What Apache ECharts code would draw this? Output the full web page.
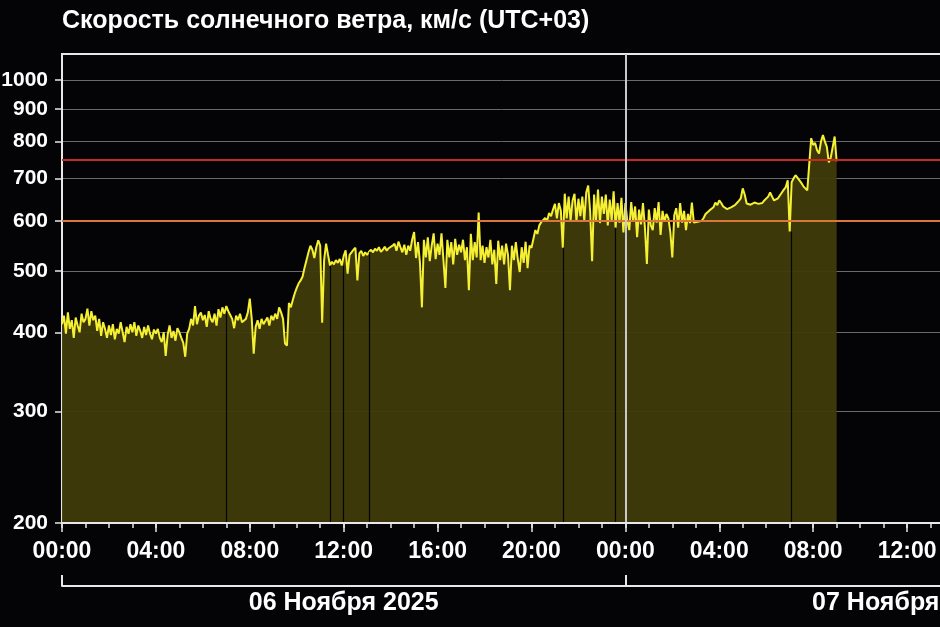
<!DOCTYPE html>
<html><head><meta charset="utf-8">
<script src="https://cdn.jsdelivr.net/npm/echarts@6/dist/echarts.min.js"></script>
<style>html,body{margin:0;padding:0;background:#040306}#c{width:940px;height:627px}</style>
</head><body><div id="c"></div><script>
const titleText = 'Скорость солнечного ветра, км/с (UTC+03)';
// x is measured in hours from 06 Nov 2025 00:00 (UTC+03)
const stepMinutes = 5;
const axisEndHour = 38;
// solar wind speed, km/s, one value every 5 minutes from 06 Nov 00:00 to 07 Nov 09:00
const speeds = [
412,425,398,430,405,418,392,422,410,400,428,415,
420,436,410,432,418,425,402,420,395,415,405,392,
410,396,412,390,405,398,415,400,386,408,398,412,
400,415,395,410,402,392,408,396,410,398,390,404,
398,405,392,386,400,367,396,410,392,402,388,406,
400,392,385,366,398,405,420,410,440,412,425,430,
418,426,408,432,420,415,428,410,435,422,438,428,
440,432,426,420,406,425,418,428,415,412,420,430,
452,420,370,408,418,405,420,412,415,422,410,425,
418,428,420,438,430,420,384,381,445,438,450,461,
470,478,483,490,506,520,535,548,540,524,545,559,
548,414,520,552,530,510,517,512,520,515,522,510,
528,539,495,530,535,540,544,483,533,538,528,535,
530,536,540,535,542,538,545,536,540,546,538,543,
540,548,552,538,556,545,535,550,530,548,538,560,
576,524,555,515,438,560,525,565,518,548,573,522,
552,530,573,520,470,560,525,555,512,562,530,550,
535,560,520,545,466,572,520,555,525,618,520,548,
515,545,525,560,512,540,477,558,520,548,512,552,
530,466,548,520,555,522,498,545,515,556,505,548,
544,562,580,572,590,597,600,606,600,617,610,625,
638,605,640,623,544,662,605,655,600,645,662,598,
650,610,655,600,665,682,620,518,660,600,672,595,
655,615,660,590,648,600,668,585,640,596,652,575,
640,600,580,642,598,632,565,625,592,640,585,513,
625,590,580,628,596,642,570,622,598,615,605,575,
525,612,628,585,640,596,622,580,615,595,641,596,
594,598,596,600,606,615,612,623,620,630,641,635,
646,640,632,628,626,628,630,632,635,640,645,651,
675,660,639,642,636,640,641,645,638,642,640,646,
648,655,665,655,646,648,651,655,665,672,678,695,
577,690,700,708,713,695,688,680,675,670,668,810,
790,796,775,766,800,819,800,785,742,755,760,815,
745
];
const gapMinutes = [421, 685, 718, 785, 1281, 1414, 1864];
const yTicks = [200, 300, 400, 500, 600, 700, 800, 900, 1000];
const yMin = 200, yMax = 1100;
const xLabelHours = [0, 4, 8, 12, 16, 20, 24, 28, 32, 36];
const xTickLabels = ['00:00','04:00','08:00','12:00','16:00','20:00','00:00','04:00','08:00','12:00'];
const minorTickHours = Array.from({length: axisEndHour + 1}, (_, i) => i);
const dayStartHours = [0, 24];
const dayMidHours = [12, 36];
const dateLabels = ['06 Ноября 2025', '07 Ноября 2025'];
const redLevel = 750;
const orangeLevel = 600;
const dayBoundaryHour = 24;

const seriesData = speeds.map((v, i) => [i * stepMinutes / 60, v]);
const gapLines = gapMinutes.map(m => {
  const i = Math.floor(m / stepMinutes);
  const v = Math.min(speeds[i], speeds[Math.min(i + 1, speeds.length - 1)]);
  const t = m / 60;
  return [{coord: [t, yMin], lineStyle: {color: '#050505', width: 1.2, type: 'solid'}}, {coord: [t, v]}];
});
const FONT = "'Liberation Sans', Arial, sans-serif";
const lookup = (keys, labels) => v => { const i = keys.findIndex(k => Math.abs(k - v) < 1e-6); return i >= 0 ? labels[i] : ''; };

const chart = echarts.init(document.getElementById('c'), null, {renderer: 'canvas'});
chart.setOption({
  backgroundColor: '#040306',
  animation: false,
  title: {
    text: titleText, left: 62, top: 9, padding: 0,
    textStyle: {color: '#ffffff', fontSize: 25, fontWeight: 'bold', fontFamily: FONT}
  },
  grid: {left: 62, top: 54, right: -14, bottom: 104, containLabel: false, outerBoundsMode: 'none',
         show: true, borderColor: '#e8e8e8', borderWidth: 2, backgroundColor: 'transparent'},
  xAxis: [
    {
      type: 'value', min: 0, max: axisEndHour, position: 'bottom', z: 5,
      axisLine: {show: true, onZero: false, lineStyle: {color: '#e8e8e8', width: 2}},
      axisTick: {show: true, customValues: xLabelHours, length: 9, lineStyle: {color: '#e8e8e8', width: 1.5}},
      axisLabel: {
        customValues: xLabelHours, margin: 17, hideOverlap: false,
        color: '#ffffff', fontSize: 23, fontWeight: 'bold', fontFamily: FONT,
        formatter: lookup(xLabelHours, xTickLabels)
      },
      splitLine: {show: false}
    },
    {
      type: 'value', min: 0, max: axisEndHour, position: 'bottom',
      axisLine: {show: false, onZero: false},
      axisTick: {show: true, customValues: minorTickHours, length: 5, lineStyle: {color: '#e8e8e8', width: 1.5}},
      axisLabel: {show: false},
      splitLine: {show: false}
    },
    {
      type: 'value', min: 0, max: axisEndHour, position: 'bottom', offset: 63,
      axisLine: {show: true, onZero: false, lineStyle: {color: '#e8e8e8', width: 2}},
      axisTick: {show: true, inside: true, customValues: dayStartHours, length: 11, lineStyle: {color: '#e8e8e8', width: 2}},
      axisLabel: {
        customValues: dayMidHours, margin: 5, hideOverlap: false,
        color: '#ffffff', fontSize: 25, fontWeight: 'bold', fontFamily: FONT,
        formatter: lookup(dayMidHours, dateLabels)
      },
      splitLine: {show: false}
    }
  ],
  yAxis: {
    type: 'log', logBase: 10, min: yMin, max: yMax,
    axisLine: {show: true, onZero: false, lineStyle: {color: '#e8e8e8', width: 2}},
    axisTick: {show: true, customValues: yTicks, length: 7, lineStyle: {color: '#e8e8e8', width: 1.5}},
    axisLabel: {customValues: yTicks, margin: 14, color: '#ffffff', fontSize: 21, fontWeight: 'bold', fontFamily: FONT,
                formatter: v => String(Math.round(v))},
    splitLine: {show: true, lineStyle: {color: '#6a6a6a', width: 1}},
    minorTick: {show: false}, minorSplitLine: {show: false}
  },
  series: [{
    type: 'line', xAxisIndex: 0, yAxisIndex: 0,
    data: seriesData, showSymbol: false, symbol: 'none',
    lineStyle: {color: '#f6f032', width: 2},
    areaStyle: {color: '#3f3b0b', opacity: 0.95, origin: 'start'},
    markLine: {
      silent: true, symbol: 'none', animation: false,
      label: {show: false},
      data: [
        ...gapLines,
        {yAxis: orangeLevel, lineStyle: {color: '#d9783a', width: 2, type: 'solid'}},
        {yAxis: redLevel, lineStyle: {color: '#c42a1e', width: 2, type: 'solid'}},
        {xAxis: dayBoundaryHour, lineStyle: {color: '#c8c8c8', width: 2, type: 'solid'}}
      ]
    }
  }]
});
</script></body></html>
